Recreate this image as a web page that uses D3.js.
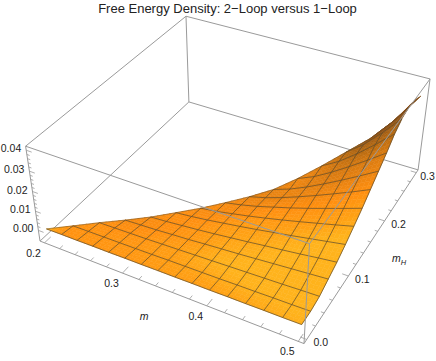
<!DOCTYPE html>
<meta charset="utf-8">
<title>Free Energy Density</title>
<style>
    body { margin: 0; background: #fff; }
    svg { display: block; }
    text { font-family: "Liberation Sans", sans-serif; fill: #222; }
</style>
<body>
<svg width="436" height="361"></svg>
<script src="https://d3js.org/d3.v7.min.js"></script>
<script>
    const titleText = "Free Energy Density: 2\u2212Loop versus 1\u2212Loop";

    const mTicks = [0.2, 0.3, 0.4, 0.5];
    const mHTicks = [0.0, 0.1, 0.2, 0.3];
    const zTicks = [0.00, 0.01, 0.02, 0.03, 0.04];

    // grid lines of the surface
    const mGrid = [0.20, 0.22, 0.24, 0.26, 0.28, 0.30, 0.32, 0.34, 0.36, 0.38, 0.40, 0.42, 0.44, 0.46, 0.48, 0.50];
    const mHGrid = [0.00, 0.02, 0.04, 0.06, 0.08, 0.10, 0.12, 0.14, 0.16, 0.18, 0.20, 0.22, 0.24, 0.26, 0.28, 0.30];

    // surface height, one row per m, entries for mH up to m - 0.2
    const zRows = [
        [0.0000],
        [0.0001, -0.0010],
        [0.0001, -0.0009, -0.0019],
        [0.0002, -0.0008, -0.0017, -0.0031],
        [0.0002, -0.0007, -0.0015, -0.0027, -0.0040],
        [0.0003, -0.0006, -0.0013, -0.0023, -0.0034, -0.0042],
        [0.0003, -0.0005, -0.0010, -0.0017, -0.0026, -0.0033, -0.0043],
        [0.0004, -0.0003, -0.0007, -0.0012, -0.0018, -0.0022, -0.0031, -0.0038],
        [0.0004, -0.0002, -0.0004, -0.0005, -0.0009, -0.0009, -0.0014, -0.0021, -0.0030],
        [0.0005, -0.0001, -0.0001, 0.0001, 0.0001, 0.0004, 0.0003, 0.0000, -0.0007, -0.0015],
        [0.0005, 0.0000, 0.0002, 0.0007, 0.0011, 0.0018, 0.0022, 0.0025, 0.0022, 0.0015, 0.0020],
        [0.0006, 0.0002, 0.0005, 0.0014, 0.0022, 0.0033, 0.0042, 0.0050, 0.0055, 0.0054, 0.0058, 0.0065],
        [0.0006, 0.0003, 0.0008, 0.0021, 0.0032, 0.0048, 0.0063, 0.0077, 0.0090, 0.0098, 0.0108, 0.0115, 0.0115],
        [0.0007, 0.0005, 0.0011, 0.0028, 0.0043, 0.0064, 0.0085, 0.0106, 0.0127, 0.0145, 0.0164, 0.0180, 0.0181, 0.0165],
        [0.0007, 0.0006, 0.0015, 0.0035, 0.0055, 0.0080, 0.0107, 0.0135, 0.0165, 0.0194, 0.0223, 0.0253, 0.0266, 0.0260, 0.0240],
        [0.0008, 0.0008, 0.0018, 0.0042, 0.0066, 0.0096, 0.0130, 0.0165, 0.0205, 0.0245, 0.0285, 0.0330, 0.0360, 0.0370, 0.0365, 0.0340]
    ];

    const mRange = [0.194, 0.506];
    const mHRange = [-0.006, 0.306];
    const zRange = [-0.0057, 0.0419];

    // the mesh stops short of the thin tip
    const lastMeshRow = 12;

    const svg = d3.select("svg");

    const sx = d3.scaleLinear().domain(mRange).range([0, 1]);
    const sy = d3.scaleLinear().domain(mHRange).range([0, 1]);
    const sz = d3.scaleLinear().domain(zRange).range([0, 1]);

    // box corners in unit cube and where they land on the page
    const corners = [
        [0, 0, 0, 40, 240.5], [1, 0, 0, 304, 344], [1, 1, 0, 418, 170], [0, 1, 0, 189, 102],
        [0, 0, 1, 25.5, 147], [1, 0, 1, 309.7, 243], [1, 1, 1, 430, 79], [0, 1, 1, 186, 16]
    ];

    // ---- fit a perspective camera to the corners (least squares) ----
    function fitCamera() {
        const A = [], b = [];
        corners.forEach(([x, y, z, u, v]) => {
            A.push([x, y, z, 1, 0, 0, 0, 0, -u * x, -u * y, -u * z]); b.push(u);
            A.push([0, 0, 0, 0, x, y, z, 1, -v * x, -v * y, -v * z]); b.push(v);
        });
        const n = 11;
        const M = d3.range(n).map(r => d3.range(n + 1).map(c =>
            c < n ? d3.sum(A, (row) => row[r] * row[c]) : d3.sum(A, (row, k) => row[r] * b[k])));
        for (let c = 0; c < n; c++) {
            let p = c;
            for (let r = c + 1; r < n; r++) if (Math.abs(M[r][c]) > Math.abs(M[p][c])) p = r;
            [M[c], M[p]] = [M[p], M[c]];
            for (let r = 0; r < n; r++) {
                if (r === c) continue;
                const f = M[r][c] / M[c][c];
                for (let k = c; k <= n; k++) M[r][k] -= f * M[c][k];
            }
        }
        return M.map((row, i) => row[n] / row[i]);
    }
    const cam = fitCamera();

    function unit(x, y, z) {
        const w = cam[8] * x + cam[9] * y + cam[10] * z + 1;
        return [(cam[0] * x + cam[1] * y + cam[2] * z + cam[3]) / w,
                (cam[4] * x + cam[5] * y + cam[6] * z + cam[7]) / w];
    }
    const project = (m, mH, z) => unit(sx(m), sy(mH), sz(z));
    const line = d3.line();

    function boxLine(a, b) {
        svg.append("path").attr("d", line([unit(...a), unit(...b)]))
            .attr("fill", "none").attr("stroke", "#9a9a9a").attr("stroke-width", 1);
    }

    // ---- back of the box ----
    boxLine([0, 0, 0], [0, 1, 0]);
    boxLine([0, 1, 0], [1, 1, 0]);
    boxLine([0, 1, 0], [0, 1, 1]);
    boxLine([0, 1, 1], [1, 1, 1]);
    boxLine([0, 1, 1], [0, 0, 1]);
    boxLine([0, 0, 0], [1, 0, 0]);
    boxLine([1, 0, 0], [1, 1, 0]);
    boxLine([0, 0, 0], [0, 0, 1]);
    boxLine([1, 1, 0], [1, 1, 1]);

    // ---- surface ----
    // darker where the surface turns away from the light
    const shade = d3.scaleLinear()
        .domain([0, 0.001, 0.0025, 0.005, 0.008, 0.014])
        .range(["#ffb31c", "#ffa014", "#ff8f10", "#e07e10", "#b86a10", "#8a5018"])
        .clamp(true);

    function height(i, j) { return zRows[i][Math.min(j, i)]; }

    function slope(i, j) {
        const i0 = Math.max(i - 1, j), i1 = Math.min(i + 1, 15);
        const j0 = Math.max(j - 1, 0), j1 = Math.min(j + 1, i);
        const di = i1 > i0 ? (height(i1, j) - height(i0, j)) / (i1 - i0) : 0;
        const dj = j1 > j0 ? (height(i, j1) - height(i, j0)) / (j1 - j0) : 0;
        return di - (dj < 0 ? 2 * dj : dj) + 0.12 * Math.max(height(i, j), 0);
    }

    function cellColor(i, j, a, b) {
        const s00 = slope(i, j), s10 = slope(i + 1, j), s11 = slope(i + 1, j + 1);
        const s01 = j + 1 <= i ? slope(i, j + 1) : s00;
        return shade(s00 * (1 - a) * (1 - b) + s10 * a * (1 - b) + s01 * (1 - a) * b + s11 * a * b);
    }

    // bilinear height inside one grid cell
    function surfacePoint(i, j, a, b) {
        const z00 = height(i, j), z10 = height(i + 1, j);
        const z01 = j + 1 <= i ? height(i, j + 1) : z00 + (height(i + 1, j + 1) - z10);
        const z11 = height(i + 1, j + 1);
        const z = z00 * (1 - a) * (1 - b) + z10 * a * (1 - b) + z01 * (1 - a) * b + z11 * a * b;
        const m = mGrid[i] + (mGrid[i + 1] - mGrid[i]) * a;
        const mH = mHGrid[j] + (mHGrid[j + 1] - mHGrid[j]) * b;
        return project(m, mH, z);
    }

    const sub = 4;
    const surface = svg.append("g");
    for (let j = mHGrid.length - 2; j >= 0; j--) {
        for (let i = j; i < mGrid.length - 1; i++) {
            for (let sb = sub - 1; sb >= 0; sb--) {
                for (let sa = 0; sa < sub; sa++) {
                    const a0 = sa / sub, a1 = (sa + 1) / sub, b0 = sb / sub, b1 = (sb + 1) / sub;
                    // keep only the part under the diagonal m - 0.2 = mH
                    if (i === j && sb > sa) continue;
                    const poly = (i === j && sb === sa)
                        ? [[a0, b0], [a1, b0], [a1, b1]]
                        : [[a0, b0], [a1, b0], [a1, b1], [a0, b1]];
                    const pts = poly.map(([a, b]) => surfacePoint(i, j, a, b));
                    const col = cellColor(i, j, (a0 + a1) / 2, (b0 + b1) / 2);
                    surface.append("path")
                        .attr("d", line(pts) + "Z")
                        .attr("fill", col).attr("stroke", col).attr("stroke-width", 0.5);
                }
            }
        }
    }

    // ---- mesh ----
    const mesh = svg.append("g").attr("fill", "none").attr("stroke", "#5f4a28")
        .attr("stroke-opacity", 0.8).attr("stroke-width", 0.9);
    mGrid.forEach((m, i) => {
        if (i === 0) return;
        const row = zRows[i].slice(0, lastMeshRow + 1);
        mesh.append("path").attr("d", line(row.map((z, j) => project(m, mHGrid[j], z))));
    });
    mHGrid.forEach((mH, j) => {
        if (j > lastMeshRow) return;
        const pts = mGrid.map((m, i) => i >= j ? project(m, mH, zRows[i][j]) : null).filter(Boolean);
        mesh.append("path").attr("d", line(pts));
    });
    // back edge of the triangle
    svg.append("path").attr("d", line(mGrid.map((m, i) => project(m, mHGrid[i], zRows[i][i]))))
        .attr("fill", "none").attr("stroke", "#5f4a28").attr("stroke-opacity", 0.7).attr("stroke-width", 0.7);

    // ---- front of the box goes over the surface ----
    const over = svg.append("g").attr("fill", "none").attr("stroke", "#9a9a9a").attr("stroke-width", 1);
    [[[0, 0, 1], [1, 0, 1]], [[1, 0, 1], [1, 1, 1]], [[1, 0, 0], [1, 0, 1]]].forEach(([a, b]) => {
        over.append("path").attr("d", line([unit(...a), unit(...b)]));
    });

    // ---- ticks ----
    const ticks = svg.append("g").attr("fill", "none").attr("stroke", "#9a9a9a").attr("stroke-width", 0.8);
    function tick(p, dir, len) {
        const a = unit(...p), b = unit(p[0] + dir[0] * len, p[1] + dir[1] * len, p[2] + dir[2] * len);
        ticks.append("path").attr("d", line([a, b]));
    }
    d3.range(0.2, 0.5001, 0.02).forEach((m, k) => tick([sx(m), 0, 0], [0, 1, 0], k % 5 === 0 ? 0.035 : 0.018));
    d3.range(0, 0.3001, 0.02).forEach((mH, k) => tick([1, sy(mH), 0], [-1, 0, 0], k % 5 === 0 ? 0.022 : 0.011));
    d3.range(0, 0.0401, 0.002).forEach((z, k) => tick([0, 0, sz(z)], [1, 0, 0], k % 5 === 0 ? 0.022 : 0.011));

    // ---- labels ----
    const fmt1 = d3.format(".1f"), fmt2 = d3.format(".2f");
    function label(str, x, y, anchor) {
        return svg.append("text").attr("x", x).attr("y", y)
            .attr("text-anchor", anchor || "middle").attr("font-size", 10.5).text(str);
    }
    mTicks.forEach(m => {
        const p = unit(sx(m), 0, 0);
        label(fmt1(m), p[0] - 11, p[1] + 14);
    });
    mHTicks.forEach(mH => {
        const p = unit(1, sy(mH), 0);
        label(fmt1(mH), Math.min(p[0] + 14, 427.5), p[1] + 7);
    });
    zTicks.forEach(z => {
        const p = unit(0, 0, sz(z));
        label(fmt2(z), p[0] - 5, p[1] + 2, "end");
    });

    svg.append("text").attr("x", 144).attr("y", 320).attr("text-anchor", "middle")
        .attr("font-size", 10.5).attr("font-style", "italic").text("m");
    const mHLabel = svg.append("text").attr("x", 399).attr("y", 262).attr("text-anchor", "middle")
        .attr("font-size", 10.5).attr("font-style", "italic");
    mHLabel.append("tspan").text("m");
    mHLabel.append("tspan").attr("dy", 2.5).attr("font-size", 7.5).text("H");

    svg.append("text").attr("x", 227.5).attr("y", 12.5).attr("text-anchor", "middle")
        .attr("font-size", 13).text(titleText);
</script>
</body>
